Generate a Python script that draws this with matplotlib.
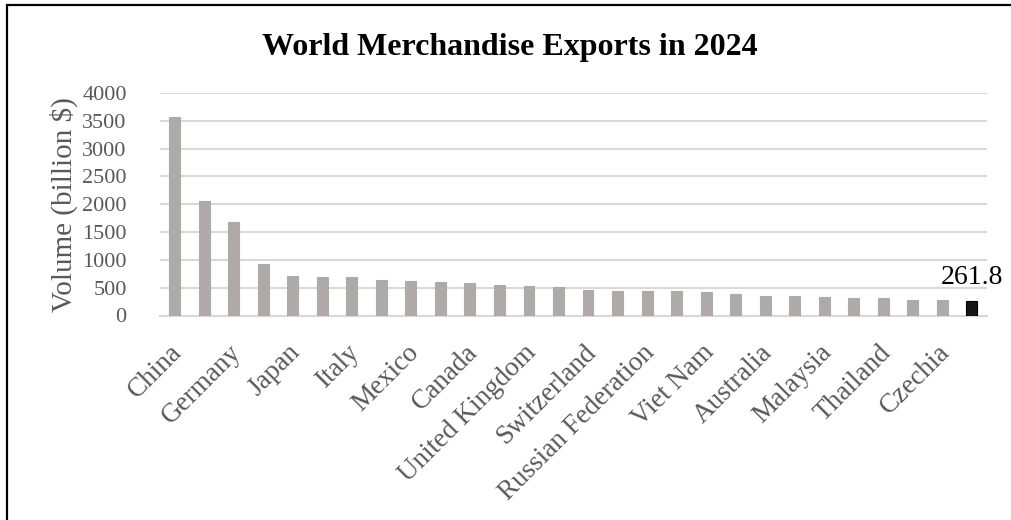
import matplotlib.pyplot as plt
from matplotlib.patches import Rectangle
from matplotlib.transforms import ScaledTranslation

# merchandise exports, billion US$, sorted largest first
values = [3577, 2065, 1685, 930, 712, 690, 684, 642, 624, 606, 576, 546,
          522, 512, 458, 446, 444, 432, 414, 392, 352, 350, 338, 315, 313,
          276, 272, 261.8]
# only every other bar gets a name on the axis
tick_names = ['China', 'Germany', 'Japan', 'Italy', 'Mexico', 'Canada',
              'United Kingdom', 'Switzerland', 'Russian Federation',
              'Viet Nam', 'Australia', 'Malaysia', 'Thailand', 'Czechia']
y_ticks = [0, 500, 1000, 1500, 2000, 2500, 3000, 3500, 4000]

plt.rcParams['font.family'] = ['Liberation Serif', 'DejaVu Serif']

fig = plt.figure(figsize=(10.11, 5.2), dpi=100)
W, H = 1011, 520
ax = fig.add_axes([160 / W, 1 - 315.5 / H, 826.5 / W, 222.5 / H])

x = list(range(len(values)))
colors = ['#AEAAAA'] * (len(values) - 1) + ['#161616']
edges = ['#AEAAAA'] * (len(values) - 1) + ['#000000']
ax.bar(x, values, width=0.37, color=colors, edgecolor=edges, linewidth=0.8,
       zorder=3)

last = len(values) - 1
ax.text(last, values[last] + 200, f'{values[last]}', ha='center',
        va='bottom', fontsize=20, color='black')

ax.set_xlim(-0.5, len(values) - 0.5)
ax.set_ylim(0, 4000)
ax.set_yticks(y_ticks)
ax.set_yticklabels([str(v) for v in y_ticks], fontsize=16, color='#595959')
ax.set_xticks(x[::2])
ax.set_xticklabels(tick_names, rotation=45, ha='right',
                   rotation_mode='anchor', fontsize=19.5, color='#595959')
ax.tick_params(axis='both', length=0)
ax.tick_params(axis='y', pad=24)
ax.tick_params(axis='x', pad=9)

# nudge the slanted names down and left a little
shift = ScaledTranslation(-0.05, -0.12, fig.dpi_scale_trans)
for lab in ax.get_xticklabels():
    lab.set_transform(lab.get_transform() + shift)

ax.grid(axis='y', color='#D9D9D9', linewidth=1.5, zorder=0)
for side in ['top', 'right', 'left']:
    ax.spines[side].set_visible(False)
ax.spines['bottom'].set_color('#D9D9D9')
ax.spines['bottom'].set_linewidth(1.5)

ax.set_ylabel('Volume (billion $)', fontsize=21, color='#595959',
              labelpad=3)

fig.text(510 / W, 1 - 47 / H, 'World Merchandise Exports in 2024',
         ha='center', va='center', fontsize=23, fontweight='bold')

# outer frame, cut off on the right and bottom
fig.patches.append(Rectangle((6.5 / W, -0.05), 1.1, 1 - 4.5 / H + 0.05,
                             transform=fig.transFigure, fill=False,
                             edgecolor='black', linewidth=1.6))

fig.savefig('out.png', dpi=100)
